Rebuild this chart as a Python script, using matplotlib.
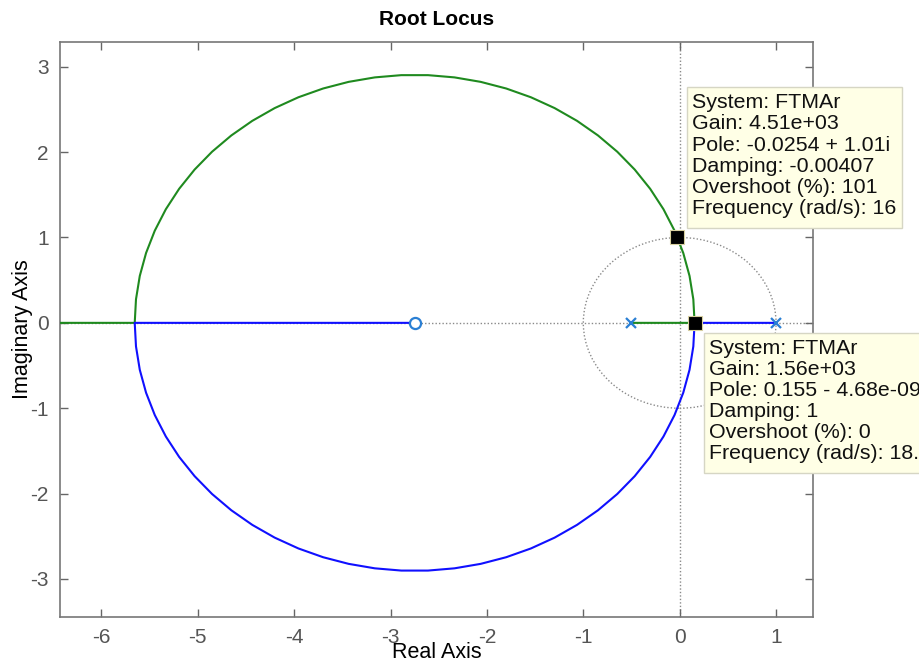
import numpy as np
import matplotlib
matplotlib.use("Agg")
import matplotlib.pyplot as plt
from matplotlib.patches import Rectangle, Circle

plt.rcParams['font.family'] = ['Liberation Sans', 'DejaVu Sans']
plt.rcParams['axes.unicode_minus'] = False

# Open-loop system: two poles, one zero
poles = [1.0, -0.5]
zeros = [-2.75]

# Selected points (data tips)
tip_poles = [complex(-0.0254, 1.01), complex(0.155, -4.68e-09)]
tip_texts = [
    "System: FTMAr\nGain: 4.51e+03\nPole: -0.0254 + 1.01i\nDamping: -0.00407\n"
    "Overshoot (%): 101\nFrequency (rad/s): 16",
    "System: FTMAr\nGain: 1.56e+03\nPole: 0.155 - 4.68e-09i\nDamping: 1\n"
    "Overshoot (%): 0\nFrequency (rad/s): 18.2",
]

xticks = [-6, -5, -4, -3, -2, -1, 0, 1]
yticks = [-3, -2, -1, 0, 1, 2, 3]

# Closed-loop characteristic polynomial: den(s) + k*num(s)
den = np.poly(poles)
num = np.poly(zeros)
num_pad = np.concatenate([[0] * (len(den) - len(num)), num])

k_break1 = (12 - np.sqrt(135)) / 2
k_break2 = (12 + np.sqrt(135)) / 2
k_vals = np.unique(np.concatenate([
    np.linspace(0, k_break1, 25),
    k_break1 + (k_break2 - k_break1) * (1 - np.cos(np.linspace(0, np.pi, 34))) / 2,
    np.geomspace(k_break2, 1e5, 80),
]))

blue_re, blue_im, green_re, green_im = [], [], [], []
for k in k_vals:
    r = np.roots(np.polyadd(den, k * num_pad))
    if np.all(np.abs(r.imag) < 1e-9):
        r = np.sort(r.real)
        blue_re.append(r[1]); blue_im.append(0.0)
        green_re.append(r[0]); green_im.append(0.0)
    else:
        up = r[np.argmax(r.imag)]
        lo = r[np.argmin(r.imag)]
        green_re.append(up.real); green_im.append(up.imag)
        blue_re.append(lo.real); blue_im.append(lo.imag)
# the remaining branch ends on the zero
blue_re.append(zeros[0]); blue_im.append(0.0)

fig = plt.figure(figsize=(9.19, 6.61), dpi=100)
ax = fig.add_axes([0.0653, 0.0666, 0.8190, 0.8699])

grid_c = '#8a8a8a'
ax.axhline(0, color=grid_c, ls=(0, (1, 1.5)), lw=1.0, zorder=1)
ax.axvline(0, color=grid_c, ls=(0, (1, 1.5)), lw=1.0, zorder=1)
ax.add_patch(Circle((0, 0), 1.0, fill=False, ec=grid_c, ls=(0, (1, 1.5)), lw=1.0, zorder=1))

ax.plot(green_re, green_im, color='#1f8a1f', lw=1.5, zorder=3)
ax.plot(blue_re, blue_im, color='#1010ff', lw=1.5, zorder=3)

pz_c = '#2a7fd4'
ax.plot(poles, [0] * len(poles), ls='none', marker='x', ms=7, mew=1.6, color=pz_c, zorder=4)
ax.plot(zeros, [0] * len(zeros), ls='none', marker='o', ms=8, mew=1.6, mfc='white', mec=pz_c, zorder=4)

for p in tip_poles:
    ax.plot(p.real, p.imag, ls='none', marker='s', ms=10, mfc='black', mec='#d8d0a0', mew=0.8, zorder=6)

ax.set_xlim(-6.43, 1.38)
ax.set_ylim(-3.445, 3.29)
ax.set_xticks(xticks)
ax.set_yticks(yticks)
ax.tick_params(direction='in', length=6, width=1, colors='#666666', labelsize=15,
               top=True, right=True, labelcolor='#555555', pad=8)
for s in ax.spines.values():
    s.set_color('#777777')
    s.set_linewidth(1.2)

ax.set_title("Root Locus", fontsize=15, fontweight='bold', pad=12)
ax.set_xlabel("Real Axis", fontsize=15.5, labelpad=-4)
ax.set_ylabel("Imaginary Axis", fontsize=15.5, labelpad=-2)

# Data tip boxes (figure pixel coordinates)
W, H = 919, 661
boxes = [(686.7, 87.3, 901.7, 228.3), (704.0, 332.7, 960.0, 473.3)]
for (x0, y0, x1, y1), txt in zip(boxes, tip_texts):
    rect = Rectangle((x0 / W, 1 - y1 / H), (x1 - x0) / W, (y1 - y0) / H,
                     transform=fig.transFigure, facecolor='#ffffe6', edgecolor='#d6d6c4',
                     lw=1.0, zorder=20)
    fig.add_artist(rect)
    fig.text((x0 + 5) / W, 1 - (y0 + 6) / H, txt, fontsize=15.4, va='top', ha='left',
             linespacing=1.14, color='#111111', zorder=21)

fig.savefig("out.png", dpi=100)
